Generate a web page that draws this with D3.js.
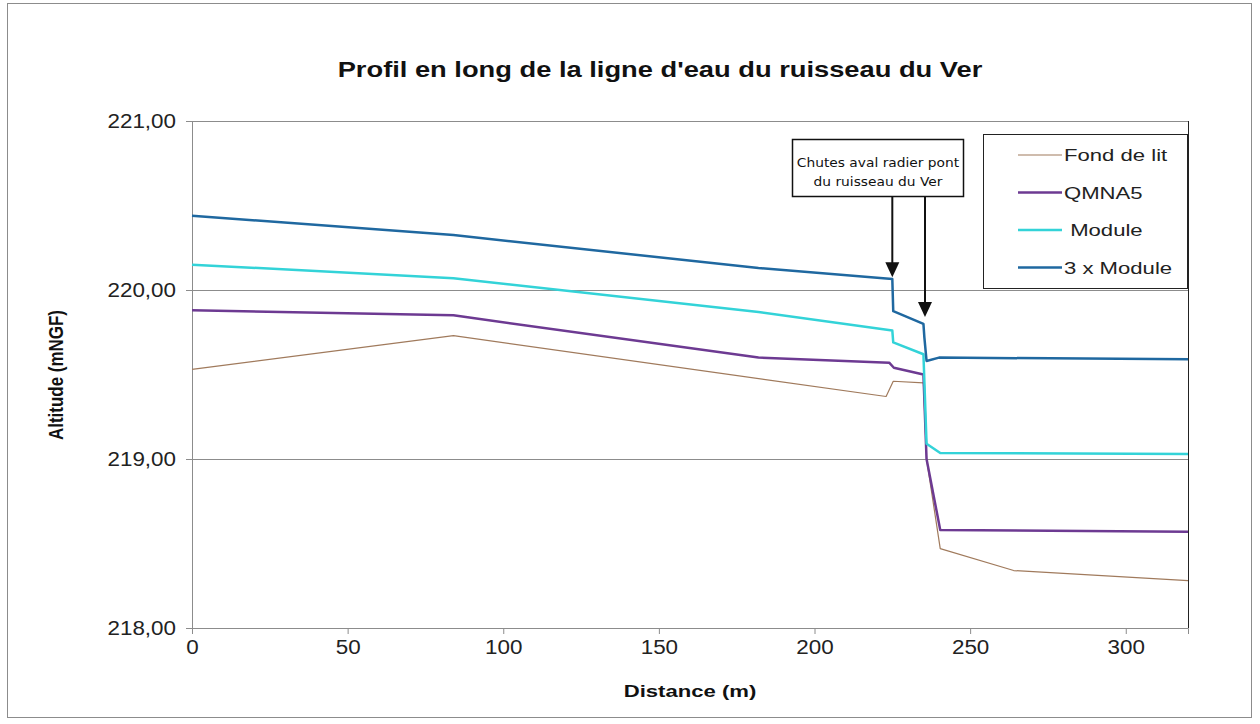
<!DOCTYPE html>
<html>
<head>
<meta charset="utf-8">
<script src="https://cdn.jsdelivr.net/npm/d3@7"></script>
<style>
  body { margin: 0; background: #fff; }
  svg { display: block; font-family: "Liberation Sans", Arial, sans-serif; }
</style>
</head>
<body>
<div id="chart"></div>
<script>
// series: [distance (m), altitude (mNGF)]
const fondDeLit = [[0, 219.53], [84, 219.73], [223, 219.37], [225.3, 219.46], [235, 219.45],
  [236, 219.0], [240.4, 218.47], [264, 218.34], [320, 218.28]];
const qmna5 = [[0, 219.88], [84, 219.85], [182, 219.60], [224, 219.57], [225.5, 219.54],
  [235, 219.50], [236, 219.0], [240.4, 218.58], [320, 218.57]];
const module1 = [[0, 220.15], [84, 220.07], [182, 219.87], [225, 219.76], [225.3, 219.69],
  [235, 219.62], [236, 219.09], [240.4, 219.035], [320, 219.03]];
const module3 = [[0, 220.44], [84, 220.325], [182, 220.13], [225, 220.065], [225.3, 219.875],
  [235, 219.80], [235.3, 219.72], [236, 219.58], [240, 219.60], [320, 219.59]];

const seriesNames = ['Fond de lit', 'QMNA5', ' Module', '3 x Module'];
const seriesColors = ['#a07a5c', '#6d3a92', '#33d3d8', '#1f68a0'];
const seriesWidths = [1.2, 2.5, 2.5, 2.5];
const seriesData = [fondDeLit, qmna5, module1, module3];

const xTicks = [0, 50, 100, 150, 200, 250, 300];
const yTicks = [218, 219, 220, 221];
const arrowTargets = [[225, 220.075], [235.5, 219.84]];
const noteLines = ['Chutes aval radier pont', 'du ruisseau du Ver'];

const width = 1260;
const height = 724;
const plot = { left: 192, right: 1188, top: 121, bottom: 628 };
const stretchX = 1.3; // the original picture is wider than it is tall

// widen text horizontally like the reference
function stretch(sel, k) {
  sel.each(function () {
    const len = this.getComputedTextLength();
    d3.select(this).attr('textLength', len * k).attr('lengthAdjust', 'spacingAndGlyphs');
  });
}

const svg = d3.select('#chart').append('svg')
  .attr('width', width).attr('height', height);

// outer border
svg.append('rect')
  .attr('x', 7.5).attr('y', 3.5).attr('width', 1244).attr('height', 714)
  .attr('fill', 'none').attr('stroke', '#8c8c8c');

const xScale = d3.scaleLinear().domain([0, 320]).range([plot.left, plot.right]);
const yScale = d3.scaleLinear().domain([218, 221]).range([plot.bottom, plot.top]);

// gridlines
svg.append('g')
  .attr('transform', `translate(${plot.left},0)`)
  .call(d3.axisLeft(yScale).tickValues(yTicks).tickFormat('').tickSize(-(plot.right - plot.left)))
  .call(g => g.select('.domain').remove())
  .call(g => g.selectAll('line').attr('stroke', '#8c8c8c'));

// right border
svg.append('line')
  .attr('x1', plot.right + 0.5).attr('x2', plot.right + 0.5)
  .attr('y1', plot.top).attr('y2', plot.bottom)
  .attr('stroke', '#222');

// axes
const fmt = d => d.toFixed(2).replace('.', ',');
svg.append('g')
  .attr('transform', `translate(${plot.left},0)`)
  .call(d3.axisLeft(yScale).tickValues(yTicks).tickFormat(fmt).tickSize(6).tickPadding(10))
  .call(g => g.selectAll('line, path').attr('stroke', '#8c8c8c'))
  .call(g => g.selectAll('text').attr('font-size', 20).attr('fill', '#222')
    .attr('font-family', '"Liberation Sans", Arial, sans-serif').call(stretch, 1.12));

svg.append('g')
  .attr('transform', `translate(0,${plot.bottom})`)
  .call(d3.axisBottom(xScale).tickValues(xTicks).tickSize(6).tickPadding(6))
  .call(g => g.selectAll('line, path').attr('stroke', '#8c8c8c'))
  .call(g => g.selectAll('text').attr('font-size', 20).attr('fill', '#222')
    .attr('font-family', '"Liberation Sans", Arial, sans-serif').call(stretch, 1.12));

// series lines
const line = d3.line().x(d => xScale(d[0])).y(d => yScale(d[1]));
seriesData.forEach((s, i) => {
  svg.append('path')
    .datum(s)
    .attr('d', line)
    .attr('fill', 'none')
    .attr('stroke', seriesColors[i])
    .attr('stroke-width', seriesWidths[i])
    .attr('stroke-linejoin', 'round');
});

// title and axis labels
svg.append('text')
  .attr('x', 660).attr('y', 77).attr('text-anchor', 'middle')
  .attr('font-size', 22).attr('font-weight', 'bold').attr('fill', '#111')
  .text("Profil en long de la ligne d'eau du ruisseau du Ver")
  .call(stretch, 1.24);

svg.append('text')
  .attr('x', 690).attr('y', 697).attr('text-anchor', 'middle')
  .attr('font-size', 17).attr('font-weight', 'bold').attr('fill', '#111')
  .text('Distance (m)')
  .call(stretch, stretchX);

svg.append('text')
  .attr('transform', 'translate(63,375) rotate(-90)').attr('text-anchor', 'middle')
  .attr('font-size', 21).attr('font-weight', 'bold').attr('fill', '#111')
  .text('Altitude (mNGF)')
  .call(stretch, 1 / stretchX * 1.05);

// legend
const legend = svg.append('g');
legend.append('rect')
  .attr('x', 983.5).attr('y', 134.5).attr('width', 204).attr('height', 154)
  .attr('fill', '#fff').attr('stroke', '#222');
seriesNames.forEach((name, i) => {
  const y = 155 + i * 37.5;
  legend.append('line')
    .attr('x1', 1018).attr('x2', 1062).attr('y1', y).attr('y2', y)
    .attr('stroke', seriesColors[i]).attr('stroke-width', seriesWidths[i]);
  legend.append('text')
    .attr('x', 1064).attr('y', y + 6)
    .attr('font-size', 17).attr('fill', '#222')
    .attr('xml:space', 'preserve')
    .style('white-space', 'pre')
    .text(name)
    .call(stretch, stretchX);
});

// annotation
const note = svg.append('g');
note.append('rect')
  .attr('x', 792.5).attr('y', 139.5).attr('width', 171).attr('height', 57)
  .attr('fill', '#fff').attr('stroke', '#111').attr('stroke-width', 1.5);
noteLines.forEach((t, i) => {
  note.append('text')
    .attr('x', 878).attr('y', 167 + i * 19).attr('text-anchor', 'middle')
    .attr('font-family', '"DejaVu Sans", Verdana, sans-serif')
    .attr('font-size', 13).attr('fill', '#111')
    .text(t)
    .call(stretch, 1.06);
});
arrowTargets.forEach(([dx, dy]) => {
  const x = xScale(dx);
  const tip = yScale(dy);
  note.append('line')
    .attr('x1', x).attr('x2', x).attr('y1', 197).attr('y2', tip - 14)
    .attr('stroke', '#111').attr('stroke-width', 2);
  note.append('path')
    .attr('d', `M${x - 7},${tip - 15}L${x + 7},${tip - 15}L${x},${tip}Z`)
    .attr('fill', '#111');
});
</script>
</body>
</html>
